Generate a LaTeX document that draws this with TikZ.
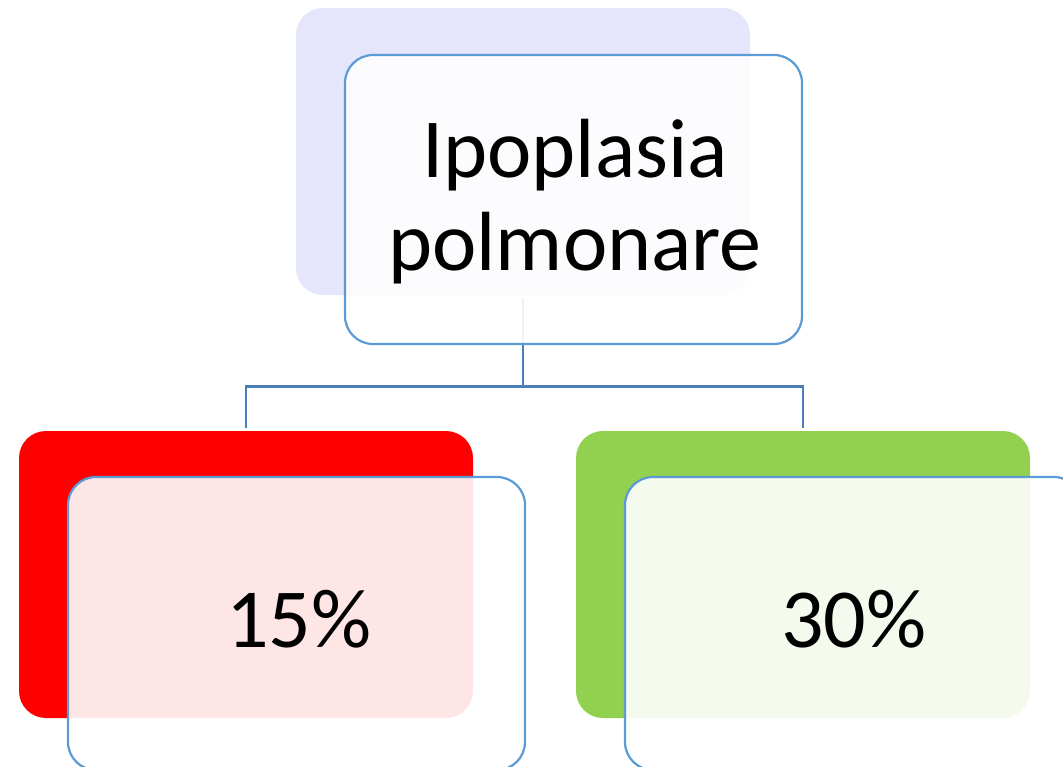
\documentclass[tikz,border=0pt]{standalone}
\usepackage{fontspec}
\setmainfont{Carlito}
\definecolor{lav}{RGB}{229,229,252}
\definecolor{bordblue}{RGB}{91,155,213}
\definecolor{connblue}{RGB}{74,126,187}
\definecolor{grn}{RGB}{146,208,80}
\begin{document}
\begin{tikzpicture}[x=1pt,y=-1pt,
  backbox/.style={rectangle, rounded corners=27pt, inner sep=0pt, minimum width=454pt, minimum height=287pt},
  frontbox/.style={rectangle, rounded corners=28pt, inner sep=0pt, minimum width=457pt, minimum height=289pt,
     draw=bordblue, line width=2.2pt, fill=white, fill opacity=0.9, draw opacity=1},
  conn/.style={draw=connblue, line width=2.6pt},
  lbl/.style={anchor=base, inner sep=0pt, font=\fontsize{84}{94}\selectfont, text=black}]
\useasboundingbox (0,0) rectangle (1063,766);
\clip (0,0) rectangle (1063,766);
% back boxes
\node[backbox, fill=lav] (topback) at (523,151.5) {};
\node[backbox, fill=red] (leftback) at (246,574.5) {};
\node[backbox, fill=grn] (rightback) at (803,574.5) {};
% connectors
\draw[conn, shorten <=3pt] (topback.south) -- ++(0,91) coordinate (j);
\draw[conn, shorten >=3pt] (j) -| (leftback.north);
\draw[conn, shorten >=3pt] (j) -| (rightback.north);
% front boxes
\node[frontbox] (topfront) at (573.5,199.5) {};
\node[frontbox, minimum height=293pt] (leftfront) at (296.5,623.5) {};
\node[frontbox, minimum height=293pt] (rightfront) at (853.5,623.5) {};
% texts
\node[lbl] (t1) at (575,177) {Ipoplasia};
\node[lbl] (t2) at (575,270) {polmonare};
\node[lbl] (t3) at (299,647) {15\%};
\node[lbl] (t4) at (854,647) {30\%};
\end{tikzpicture}
\end{document}
